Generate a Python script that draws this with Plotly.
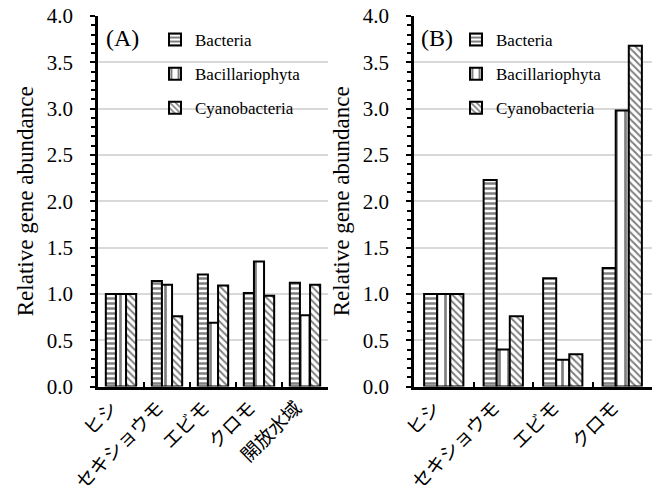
import plotly.graph_objects as go

cats_a = ["ヒシ", "セキショウモ", "エビモ", "クロモ", "開放水域"]
cats_b = ["ヒシ", "セキショウモ", "エビモ", "クロモ"]
series = ["Bacteria", "Bacillariophyta", "Cyanobacteria"]

a_bacteria = [1.00, 1.14, 1.21, 1.01, 1.12]
a_bacill = [1.00, 1.10, 0.69, 1.35, 0.77]
a_cyano = [1.00, 0.76, 1.09, 0.98, 1.10]

b_bacteria = [1.00, 2.23, 1.17, 1.28]
b_bacill = [1.00, 0.40, 0.29, 2.98]
b_cyano = [1.00, 0.76, 0.35, 3.68]

patterns = {"Bacteria": ("-", 5, 0.5), "Bacillariophyta": ("|", 9, 0.3), "Cyanobacteria": ("\\", 5, 0.4)}

SERIF = "Liberation Serif, Times New Roman, serif"
JP = "Noto Sans CJK JP"

W, H = 662, 494

def px(xp):
    return xp / W

def py(yp):
    return 1 - yp / H

fig = go.Figure()

def add(cats, vals, name, xa, ya, legend):
    shp, sz, sol = patterns[name]
    fig.add_trace(go.Bar(
        x=cats, y=vals, name=name, xaxis=xa, yaxis=ya, legend=legend,
        legendgroup=legend + name,
        marker=dict(color="white", line=dict(color="black", width=2),
                    pattern=dict(shape=shp, fgcolor="black", bgcolor="white", size=sz, solidity=sol)),
    ))

for name, vals in zip(series, [a_bacteria, a_bacill, a_cyano]):
    add(cats_a, vals, name, "x", "y", "legend")
for name, vals in zip(series, [b_bacteria, b_bacill, b_cyano]):
    add(cats_b, vals, name, "x2", "y2", "legend2")

ydom = [py(386.6), py(16)]
yax = dict(range=[0, 4], dtick=0.5, tickformat=".1f", showgrid=True, gridcolor="#d9d9d9", gridwidth=1.5,
           showline=True, linecolor="black", linewidth=2.5, ticks="outside", ticklen=5, tickwidth=2,
           tickcolor="black", minor=dict(dtick=0.1, ticks="outside", ticklen=4, tickwidth=2, tickcolor="black", showgrid=False),
           tickfont=dict(family=SERIF, size=21, color="black"),
           title=dict(text="Relative gene abundance", font=dict(family=SERIF, size=23, color="black"), standoff=7),
           zeroline=False, domain=ydom, ticklabelstandoff=13, automargin=False)
xax = dict(showline=True, linecolor="black", linewidth=2.5, ticks="inside", tickson="boundaries",
           ticklen=5, tickwidth=2, tickcolor="black", tickangle=-45, automargin=False,
           ticklabelshift=-9, tickfont=dict(family=JP, size=19, color="black"))

leg = dict(xanchor="left", yanchor="top", font=dict(family=SERIF, size=17, color="black"),
           bgcolor="rgba(0,0,0,0)", tracegroupgap=9, itemwidth=30)

fig.update_layout(
    width=W, height=H, plot_bgcolor="white", paper_bgcolor="white",
    margin=dict(l=0, r=0, t=0, b=0), barmode="group", bargap=0.34, bargroupgap=0.0,
    showlegend=True,
    xaxis=dict(domain=[px(98), px(328)], anchor="y", **xax),
    yaxis=dict(anchor="x", **yax),
    xaxis2=dict(domain=[px(414), px(652)], anchor="y2", **xax),
    yaxis2=dict(anchor="x2", **yax),
    legend=dict(x=px(155), y=py(22), **leg),
    legend2=dict(x=px(456), y=py(22), **leg),
    annotations=[
        dict(text="(A)", x=px(104), y=py(38), xref="paper", yref="paper", xanchor="left", yanchor="middle",
             showarrow=False, font=dict(family=SERIF, size=24, color="black")),
        dict(text="(B)", x=px(419), y=py(38), xref="paper", yref="paper", xanchor="left", yanchor="middle",
             showarrow=False, font=dict(family=SERIF, size=24, color="black")),
    ],
)

fig.write_html("out.html", config={"displayModeBar": False},
               post_script="document.body.style.margin='0';")
